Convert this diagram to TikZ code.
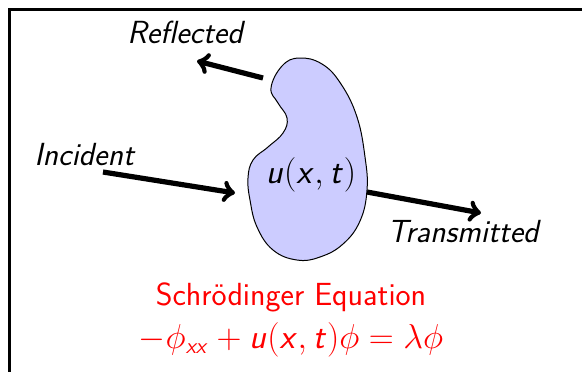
\documentclass[tikz,border=0pt]{standalone}
\usepackage{tikz}
\DeclareMathAlphabet{\mathsfit}{OT1}{cmss}{m}{sl}
\newcommand{\sfv}[1]{\mathsfit{#1}}
\newcommand{\sfo}[1]{\mathsf{#1}}

\begin{document}
\begin{tikzpicture}[
    x=0.5pt, y=-0.5pt,
    every node/.style={
        inner sep=0pt,
        font=\fontsize{16}{19}\selectfont\sffamily
    },
    wavelabel/.style={
        anchor=base west,
        font=\fontsize{16}{19}\selectfont\sffamily\itshape
    },
    redtext/.style={
        anchor=base,
        text=red
    },
    wave/.style={
        ->,
        line width=2.6pt
    }
]
\useasboundingbox (0,0) rectangle (582,371);
\clip (0,0) rectangle (582,371);

% Frame
\draw[line width=1.5pt] (9,420) -- (9,9) -- (620,9);

% Scatterer
\filldraw[fill=blue!20, draw=black, line width=0.5pt] plot[smooth cycle, tension=0.7] coordinates {(271,88) (282,66) (299,58) (322,64) (341,84) (357,117) (365,157) (367,190) (360,221) (343,244) (320,257) (297,260) (273,250) (257,227) (250,200) (248,178) (253,160) (268,147) (283,133) (287,118) (278,103)};

% Nodes
\node (pot)   [anchor=base] at (311,183) {$\sfv{u}\sfo{(}\sfv{x},\sfv{t}\sfo{)}$};
\node (refl)  [wavelabel] at (127,43)  {Reflected};
\node (inc)   [wavelabel] at (34,165)  {Incident};
\node (trans) [wavelabel] at (387,242) {Transmitted};
\node (title) [redtext] at (291,305) {Schr\"odinger Equation};
\node (eq)    [redtext] at (291,348) {$\sfo{-}\phi_{\sfv{xx}}\mathbin{\sfo{+}}\sfv{u}\sfo{(}\sfv{x},\sfv{t}\sfo{)}\phi\mathrel{\sfo{=}}\lambda\phi$};

\coordinate (inc-a)   at (103,172);
\coordinate (inc-b)   at (235,193);
\coordinate (refl-a)  at (263,78);
\coordinate (refl-b)  at (197,61);
\coordinate (trans-a) at (367,192);
\coordinate (trans-b) at (481,213);

% Arrows
\draw[wave] (inc-a) -- (inc-b);
\draw[wave] (refl-a) -- (refl-b);
\draw[wave] (trans-a) -- (trans-b);

\end{tikzpicture}
\end{document}
